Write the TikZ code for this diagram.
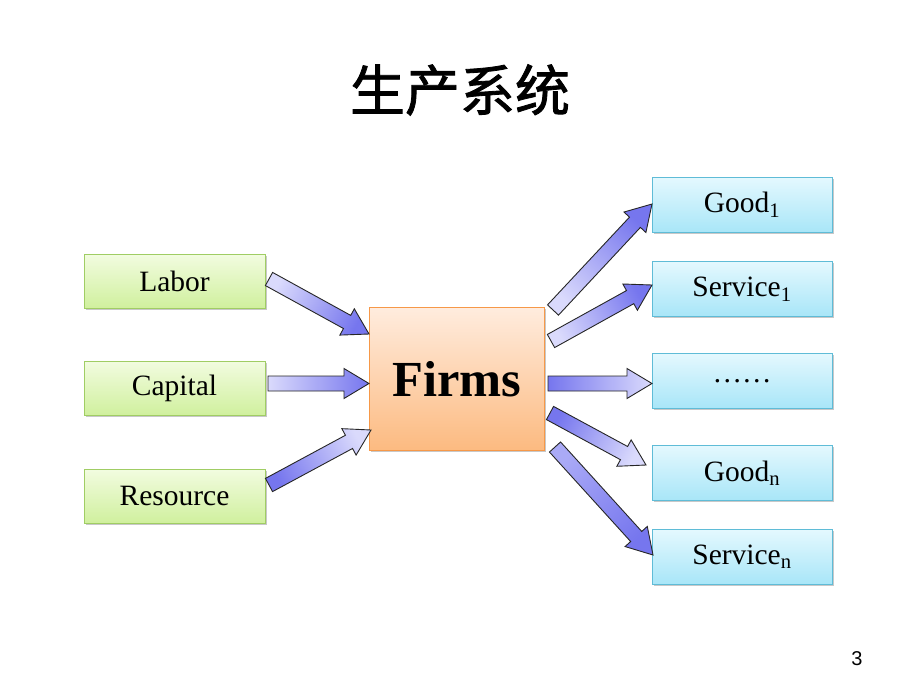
\documentclass[tikz,border=0pt]{standalone}
\usepackage{fontspec}
\setmainfont{Liberation Serif}
\newfontfamily\cjk[FakeBold=1.5]{Noto Sans CJK SC}
\newfontfamily\sansf{Liberation Sans}
\usetikzlibrary{calc,shadows}

\definecolor{grnT}{RGB}{242,252,224}
\definecolor{grnB}{RGB}{208,240,158}
\definecolor{grnD}{RGB}{160,205,100}
\definecolor{bluT}{RGB}{228,248,254}
\definecolor{bluB}{RGB}{168,230,248}
\definecolor{bluD}{RGB}{95,188,215}
\definecolor{orgT}{RGB}{255,236,222}
\definecolor{orgB}{RGB}{252,186,128}
\definecolor{orgD}{RGB}{246,152,72}
\definecolor{arL}{RGB}{218,218,252}
\definecolor{arM}{RGB}{170,170,246}
\definecolor{arD}{RGB}{118,118,238}

\tikzset{
  box/.style={draw, line width=0.9pt, inner sep=0pt,
    drop shadow={shadow xshift=1.5pt, shadow yshift=-1.5pt, opacity=0.3, fill=black!70}},
  inbox/.style={box, minimum width=181pt, minimum height=54pt,
    top color=grnT, bottom color=grnB, draw=grnD, font=\fontsize{29.5}{34}\selectfont},
  outbox/.style={box, minimum width=180pt, minimum height=55pt,
    top color=bluT, bottom color=bluB, draw=bluD, font=\fontsize{29.5}{34}\selectfont},
  firmbox/.style={box, minimum width=175pt, minimum height=143pt,
    top color=orgT, bottom color=orgB, draw=orgD, font=\fontsize{50.5}{60}\selectfont\bfseries},
  arrowline/.style={draw=black!85, line width=0.9pt, line join=miter},
}

% block arrow from #1 to #2, tail colour #3, head colour #4
\newcommand\barrow[4]{%
  \path let \p1=(#1), \p2=(#2), \n1={atan2(\y2-\y1,\x2-\x1)} in
    \pgfextra{\xdef\barang{\n1}};
  \path[arrowline, shading=axis, bottom color=#3, top color=#4, shading angle=\barang-90]
    let \p1=(#1), \p2=(#2), \n1={atan2(\y2-\y1,\x2-\x1)} in
    ($(\p1)+(\n1+90:7.5pt)$)
    -- ($(\p2)+(\n1+180:25pt)+(\n1+90:7.5pt)$)
    -- ($(\p2)+(\n1+180:25pt)+(\n1+90:15pt)$)
    -- (\p2)
    -- ($(\p2)+(\n1+180:25pt)+(\n1-90:15pt)$)
    -- ($(\p2)+(\n1+180:25pt)+(\n1-90:7.5pt)$)
    -- ($(\p1)+(\n1-90:7.5pt)$) -- cycle;
}

\begin{document}
\begin{tikzpicture}[x=1pt, y=-1pt]
\useasboundingbox[fill=white] (0,0) rectangle (920,690);

\node[font=\cjk\fontsize{55}{64}\selectfont] (title) at (460,90) {生产系统};

\node[inbox] (labor) at (174.5,281) {Labor};
\node[inbox] (capital) at (174.5,388) {Capital};
\node[inbox] (resource) at (174.5,496) {Resource};

\node[firmbox] (firms) at (457,379) {Firms};

\node[outbox] (good1) at (742,205) {Good\textsubscript{1}};
\node[outbox] (serv1) at (742,289) {Service\textsubscript{1}};
\node[outbox] (dots) at (742,381) {……};
\node[outbox] (goodn) at (742,473) {Good\textsubscript{n}};
\node[outbox] (servn) at (742,557) {Service\textsubscript{n}};

\node[font=\sansf\fontsize{20}{24}\selectfont] (page) at (857,659) {3};

% arrow end points
\coordinate (a1s) at (269,279);  \coordinate (a1e) at (369,334);
\coordinate (a2s) at (268,383.5);\coordinate (a2e) at (369,383.5);
\coordinate (a3s) at (269,485);  \coordinate (a3e) at (371,430);
\coordinate (b1s) at (553,310);  \coordinate (b1e) at (652,204);
\coordinate (b2s) at (551,341);  \coordinate (b2e) at (652,285);
\coordinate (b3s) at (548,383.5);\coordinate (b3e) at (652,383.5);
\coordinate (b4s) at (550,413);  \coordinate (b4e) at (646,465);
\coordinate (b5s) at (555,447);  \coordinate (b5e) at (653,555);

\barrow{a1s}{a1e}{arL}{arD}
\barrow{a2s}{a2e}{arL}{arD}
\barrow{a3s}{a3e}{arD}{arL}
\barrow{b1s}{b1e}{arL}{arD}
\barrow{b2s}{b2e}{arL}{arD}
\barrow{b3s}{b3e}{arD}{arL}
\barrow{b4s}{b4e}{arD}{arL}
\barrow{b5s}{b5e}{arM}{arD}
\end{tikzpicture}
\end{document}
